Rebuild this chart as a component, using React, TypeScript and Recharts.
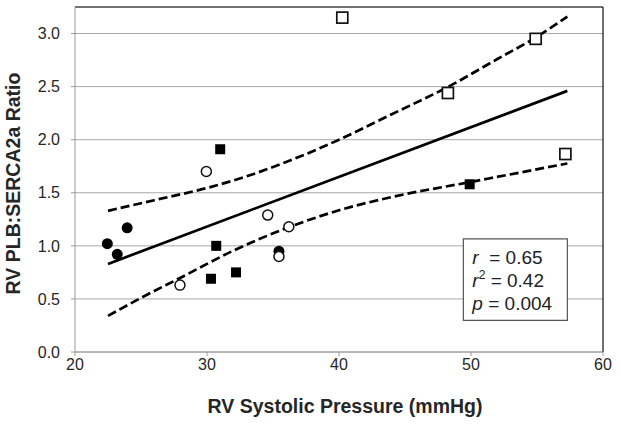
import React from 'react';
import { ComposedChart, Scatter, Line, XAxis, YAxis, CartesianGrid, ReferenceArea, ReferenceLine } from 'recharts';

// RV systolic pressure (mmHg) vs RV PLB:SERCA2a ratio, four groups
const openSquares = [
  { x: 40.25, y: 3.15 },
  { x: 54.9, y: 2.95 },
  { x: 48.25, y: 2.44 },
  { x: 57.15, y: 1.865 },
];
const filledSquares = [
  { x: 31.0, y: 1.91 },
  { x: 30.7, y: 1.0 },
  { x: 30.3, y: 0.69 },
  { x: 32.2, y: 0.75 },
  { x: 49.9, y: 1.58 },
];
const filledCircles = [
  { x: 22.45, y: 1.02 },
  { x: 23.2, y: 0.92 },
  { x: 23.95, y: 1.17 },
  { x: 35.45, y: 0.95 },
];
const openCircles = [
  { x: 29.95, y: 1.7 },
  { x: 27.95, y: 0.63 },
  { x: 34.6, y: 1.29 },
  { x: 36.2, y: 1.18 },
  { x: 35.45, y: 0.9 },
];

// regression line and 95% band
const fitLine = [
  { x: 22.5, y: 0.83 },
  { x: 57.3, y: 2.46 },
];
const upperBand = [
  { x: 22.5, y: 1.33 },
  { x: 26, y: 1.43 },
  { x: 30, y: 1.545 },
  { x: 33, y: 1.655 },
  { x: 36, y: 1.79 },
  { x: 40, y: 2.0 },
  { x: 44, y: 2.24 },
  { x: 48.3, y: 2.5 },
  { x: 52, y: 2.76 },
  { x: 55, y: 2.97 },
  { x: 57.3, y: 3.16 },
];
const lowerBand = [
  { x: 22.5, y: 0.34 },
  { x: 25, y: 0.51 },
  { x: 28, y: 0.7 },
  { x: 32, y: 0.955 },
  { x: 36.3, y: 1.18 },
  { x: 40, y: 1.335 },
  { x: 44, y: 1.46 },
  { x: 49.9, y: 1.6 },
  { x: 57.3, y: 1.776 },
];

const xTicks = [20, 30, 40, 50, 60];
const yTicks = [0, 0.5, 1.0, 1.5, 2.0, 2.5, 3.0];
const statsLines = [
  { sym: 'r', sup: '', text: '  = 0.65' },
  { sym: 'r', sup: '2', text: ' = 0.42' },
  { sym: 'p', sup: '', text: ' = 0.004' },
];

const FONT = '"Liberation Sans", Arial, sans-serif';

const OpenSquare = (p: any) => (
  <rect x={p.cx - 5.5} y={p.cy - 5.5} width={11} height={11} fill="#fff" stroke="#111" strokeWidth={1.7} />
);
const FilledSquare = (p: any) => (
  <rect x={p.cx - 5} y={p.cy - 5} width={10} height={10} fill="#000" />
);
const FilledCircle = (p: any) => <circle cx={p.cx} cy={p.cy} r={5.5} fill="#000" />;
const OpenCircle = (p: any) => (
  <circle cx={p.cx} cy={p.cy} r={5} fill="#fff" stroke="#111" strokeWidth={1.5} />
);

const StatsBox = (props: any) => {
  const vb = props.viewBox;
  return (
    <g fontFamily={FONT} fontSize={19} fill="#222">
      {statsLines.map((l, i) => (
        <text key={i} x={vb.x + 9} y={vb.y + 25 + i * 23}>
          <tspan fontStyle="italic">{l.sym}</tspan>
          {l.sup && (
            <tspan fontSize={12} dy={-8}>
              {l.sup}
            </tspan>
          )}
          <tspan dy={l.sup ? 8 : 0} style={{ whiteSpace: 'pre' }}>
            {l.text}
          </tspan>
        </text>
      ))}
    </g>
  );
};

export default function App() {
  return (
    <div style={{ position: 'absolute', left: 0, top: 0, background: '#fff' }}>
      <ComposedChart width={621} height={425} margin={{ top: 7, right: 18, bottom: 0, left: 0 }}>
        <CartesianGrid horizontal vertical={false} stroke="#a8a8a8" strokeWidth={1} />
        <XAxis
          type="number"
          dataKey="x"
          domain={[20, 60]}
          ticks={xTicks}
          height={73}
          tickSize={4}
          tickMargin={3}
          stroke="#9a9a9a"
          tick={{ fontSize: 16, fill: '#262626', fontFamily: FONT }}
          label={({ viewBox }: any) => (
            <text
              x={viewBox.x + viewBox.width / 2 + 6}
              y={viewBox.y + 61}
              textAnchor="middle"
              fontFamily={FONT}
              fontSize={19.5}
              fontWeight="bold"
              fill="#262626"
            >
              RV Systolic Pressure (mmHg)
            </text>
          )}
        />
        <YAxis
          type="number"
          dataKey="y"
          domain={[0, 3.25]}
          ticks={yTicks}
          width={75}
          tickSize={4}
          tickMargin={11}
          stroke="#9a9a9a"
          tickFormatter={(v: number) => v.toFixed(1)}
          tick={{ fontSize: 16, fill: '#262626', fontFamily: FONT }}
          label={({ viewBox }: any) => {
            const cx = 13;
            const cy = viewBox.y + viewBox.height / 2 + 4;
            return (
              <text
                x={cx}
                y={cy}
                transform={`rotate(-90, ${cx}, ${cy})`}
                textAnchor="middle"
                dominantBaseline="central"
                fontFamily={FONT}
                fontSize={19.5}
                fontWeight="bold"
                fill="#262626"
              >
                RV PLB:SERCA2a Ratio
              </text>
            );
          }}
        />
        <ReferenceLine y={3.25} stroke="#111" strokeWidth={1.2} />
        <ReferenceLine x={60} stroke="#111" strokeWidth={1.2} />
        <ReferenceArea
          x1={49.42}
          x2={57.3}
          y1={0.298}
          y2={1.066}
          fill="#fff"
          fillOpacity={1}
          stroke="#555"
          strokeWidth={1.2}
          label={(p: any) => <StatsBox viewBox={p.viewBox} />}
        />
        <Line data={upperBand} dataKey="y" type="monotone" stroke="#000" strokeWidth={2.7} strokeDasharray="9 4" dot={false} activeDot={false} isAnimationActive={false} />
        <Line data={lowerBand} dataKey="y" type="monotone" stroke="#000" strokeWidth={2.7} strokeDasharray="9 4" dot={false} activeDot={false} isAnimationActive={false} />
        <Line data={fitLine} dataKey="y" type="linear" stroke="#000" strokeWidth={2.7} dot={false} activeDot={false} isAnimationActive={false} />
        <Scatter data={openSquares} shape={OpenSquare} isAnimationActive={false} />
        <Scatter data={filledSquares} shape={FilledSquare} isAnimationActive={false} />
        <Scatter data={filledCircles} shape={FilledCircle} isAnimationActive={false} />
        <Scatter data={openCircles} shape={OpenCircle} isAnimationActive={false} />
      </ComposedChart>
    </div>
  );
}
